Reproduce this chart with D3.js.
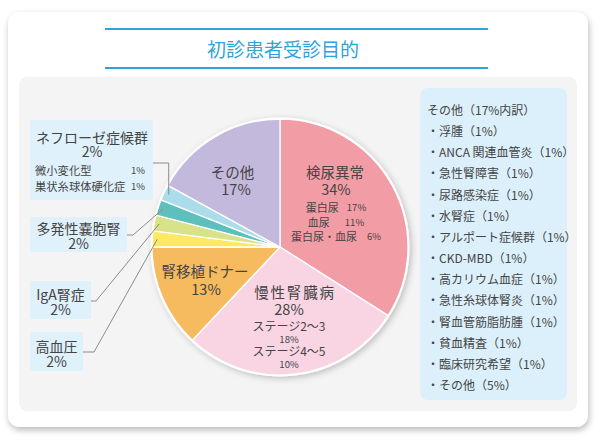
<!DOCTYPE html>
<html><head><meta charset="utf-8">
<script src="https://cdn.jsdelivr.net/npm/d3@7"></script>
<style>
html,body{margin:0;padding:0;background:#fff;}
svg{display:block;font-family:"Noto Sans CJK JP","Noto Sans",sans-serif;}
</style></head>
<body><svg id="c" width="600" height="440"></svg>
<script>
// ---- data ----
const title = "初診患者受診目的";
const categories = ["検尿異常","慢性腎臓病","腎移植ドナー","高血圧","IgA腎症","多発性嚢胞腎","ネフローゼ症候群","その他"];
const values = [34,28,13,2,2,2,2,17];
const colors = ["#f29ca6","#f9d5e4","#f6bb5f","#fde862","#d7e289","#5dc0bc","#aadcea","#c3b9dc"];
const urineSub = ["蛋白尿","血尿","蛋白尿・血尿"];
const urineSubValues = [17,11,6];
const ckdSub = ["ステージ2〜3","ステージ4〜5"];
const ckdSubValues = [18,10];
const nephroSub = ["微小変化型","巣状糸球体硬化症"];
const nephroSubValues = [1,1];
const otherHeader = "その他（17%内訳）";
const otherItems = ["浮腫","ANCA 関連血管炎","急性腎障害","尿路感染症","水腎症","アルポート症候群","CKD-MBD","高カリウム血症","急性糸球体腎炎","腎血管筋脂肪腫","貧血精査","臨床研究希望","その他"];
const otherValues = [1,1,1,1,1,1,1,1,1,1,1,1,5];

// ---- drawing ----
const svg = d3.select("#c");
const defs = svg.append("defs");
const f1 = defs.append("filter").attr("id","cardShadow").attr("x","-5%").attr("y","-5%").attr("width","110%").attr("height","115%");
f1.append("feDropShadow").attr("dx",1).attr("dy",3).attr("stdDeviation",3).attr("flood-color","#000").attr("flood-opacity",0.28);
const f2 = defs.append("filter").attr("id","pieShadow").attr("x","-10%").attr("y","-10%").attr("width","125%").attr("height","125%");
f2.append("feDropShadow").attr("dx",2).attr("dy",2).attr("stdDeviation",3).attr("flood-color","#000").attr("flood-opacity",0.22);

svg.append("rect").attr("x",8).attr("y",12).attr("width",580).attr("height",415).attr("rx",12)
  .attr("fill","#fff").attr("filter","url(#cardShadow)");
svg.append("rect").attr("x",19).attr("y",77).attr("width",558).attr("height",334).attr("rx",8).attr("fill","#f4f4f4");

const blue = "#2ea3dc";
[29,68].forEach(y=>svg.append("line").attr("x1",105).attr("x2",488).attr("y1",y).attr("y2",y)
  .attr("stroke",blue).attr("stroke-width",2));
svg.append("text").attr("x",283).attr("y",48.5).attr("text-anchor","middle").attr("dominant-baseline","central")
  .attr("font-size",19).attr("fill",blue).text(title);

// pie
const cx = 280, cy = 247, R = 128;
const pie = d3.pie().sort(null).value(d=>d);
const arcs = pie(values);
const arc = d3.arc().innerRadius(0).outerRadius(R);
const g = svg.append("g").attr("transform",`translate(${cx},${cy})`);
g.append("circle").attr("r",R+1.5).attr("fill","#fff").attr("filter","url(#pieShadow)");
g.selectAll("path.slice").data(arcs).join("path").attr("class","slice")
  .attr("d",arc).attr("fill",(d,i)=>colors[i]).attr("stroke","#fff").attr("stroke-width",1.3).attr("stroke-linejoin","round");

const txt = "#444";
// multi-line text block: lines = [{x, y, parts:[{s,size,dx,ls}]}], one <text> element
function block(parent, anchor, lines){
  const t = parent.append("text").attr("text-anchor",anchor).attr("dominant-baseline","central").attr("fill",txt);
  lines.forEach(L=>{
    L.parts.forEach((p,k)=>{
      const ts = t.append("tspan").attr("font-size",p.size).text(p.s);
      if(k===0) ts.attr("x",L.x).attr("y",L.y);
      if(p.dx) ts.attr("dx",p.dx);
      if(p.ls) ts.attr("letter-spacing",p.ls);
    });
  });
  return t;
}
// その他
block(g,"middle",[
  {x:-47.5,y:-76,parts:[{s:categories[7],size:14.5}]},
  {x:-44,y:-59,parts:[{s:values[7]+"%",size:14.5}]}
]);
// 検尿異常
const ugaps = [8,15,10];
const urows = [-40,-25,-11];
block(g,"middle",[
  {x:55,y:-76.5,parts:[{s:categories[0],size:14.5}]},
  {x:56,y:-59.5,parts:[{s:values[0]+"%",size:14.5}]}
].concat(urineSub.map((s,i)=>({x:56,y:urows[i],parts:[{s:s,size:11},{s:urineSubValues[i]+"%",size:9.5,dx:ugaps[i]}]}))));
// 慢性腎臓病
block(g,"middle",[
  {x:15,y:44,parts:[{s:categories[1],size:14.5,ls:1.8}]},
  {x:9,y:61,parts:[{s:values[1]+"%",size:14.5}]}
].concat(...ckdSub.map((s,i)=>[
  {x:9,y:78+i*25,parts:[{s:s,size:12}]},
  {x:9,y:91.5+i*25.5,parts:[{s:ckdSubValues[i]+"%",size:9.5}]}
])));
// 腎移植ドナー
block(g,"middle",[
  {x:-75,y:23,parts:[{s:categories[2],size:14.5}]},
  {x:-74,y:40.5,parts:[{s:values[2]+"%",size:14.5}]}
]);

// left callouts
const lineCol = "#8c8c8c";
const boxFill = "#dff1fb";
const endArc = d3.arc().innerRadius(123).outerRadius(123);
function endPoint(i){ const c = endArc.centroid(arcs[i]); return [cx+c[0], cy+c[1]]; }

// ネフローゼ症候群 (index 6)
svg.append("rect").attr("x",30).attr("y",120).attr("width",123).attr("height",80).attr("fill",boxFill);
block(svg,"middle",[
  {x:92,y:136.5,parts:[{s:categories[6],size:14}]},
  {x:92,y:150.5,parts:[{s:values[6]+"%",size:14}]}
]);
block(svg,"start",nephroSub.map((s,i)=>({x:35,y:170+i*16,parts:[{s:s,size:11.3}]})));
block(svg,"end",nephroSubValues.map((v,i)=>({x:145,y:170+i*16,parts:[{s:v+"%",size:9.5}]})));
{
  const e = endPoint(6);
  svg.append("polyline").attr("points",[[153,163],[e[0],163],e].join(" "))
    .attr("fill","none").attr("stroke",lineCol).attr("stroke-width",1);
}
// other small callouts
const callouts = [
  {i:5, x:30, y:217, w:97, h:35, ty:228, elbow:[133,235]},
  {i:4, x:30, y:281, w:61, h:38, ty:294, elbow:[96,301]},
  {i:3, x:30, y:332, w:53, h:39, ty:346, elbow:[94,352]}
];
callouts.forEach(c=>{
  svg.append("rect").attr("x",c.x).attr("y",c.y).attr("width",c.w).attr("height",c.h).attr("fill",boxFill);
  block(svg,"middle",[
    {x:c.x+c.w/2,y:c.ty,parts:[{s:categories[c.i],size:14}]},
    {x:c.x+c.w/2,y:c.ty+14.5,parts:[{s:values[c.i]+"%",size:14}]}
  ]);
  const e = endPoint(c.i);
  svg.append("polyline").attr("points",[[c.x+c.w,c.elbow[1]],c.elbow,e].join(" "))
    .attr("fill","none").attr("stroke",lineCol).attr("stroke-width",1);
});

// right breakdown box
svg.append("rect").attr("x",420).attr("y",88).attr("width",147).attr("height",312).attr("rx",8).attr("fill","#dcf0fb");
const step = 21.15;
block(svg,"start",[{x:427,y:109,parts:[{s:otherHeader,size:12}]}]
  .concat(otherItems.map((s,i)=>({x:427,y:109+(i+1)*step,parts:[{s:`・${s}（${otherValues[i]}%）`,size:12}]}))));
</script></body></html>
